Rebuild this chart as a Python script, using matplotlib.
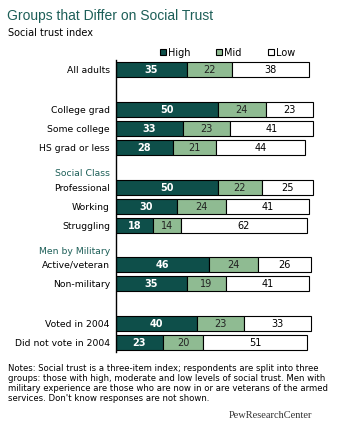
import matplotlib.pyplot as plt

groups = ['All adults', 'College grad', 'Some college', 'HS grad or less',
          'Professional', 'Working', 'Struggling',
          'Active/veteran', 'Non-military',
          'Voted in 2004', 'Did not vote in 2004']
high = [35, 50, 33, 28, 50, 30, 18, 46, 35, 40, 23]
mid = [22, 24, 23, 21, 22, 24, 14, 24, 19, 23, 20]
low = [38, 23, 41, 44, 25, 41, 62, 26, 41, 33, 51]
section_labels = ['Social Class', 'Men by Military']

# layout: row centres in pixels from top of figure
ypos = [70, 110, 129, 148, 188, 207, 226, 265, 284, 324, 343]
section_y = [173, 251]

dark = '#0e4f4a'
green = '#8fbb92'
teal_txt = '#1d5f58'

W, H = 337, 431
fig = plt.figure(figsize=(W / 100, H / 100), dpi=100)
ax = fig.add_axes([116 / W, 1 - 353 / H, 210 / W, (353 - 61) / H])
ax.set_xlim(0, 103.4)
ax.set_ylim(353, 61)

bh = 15
ax.barh(ypos, high, height=bh, color=dark, edgecolor='black', lw=0.8)
ax.barh(ypos, mid, left=high, height=bh, color=green, edgecolor='black', lw=0.8)
left2 = [h + m for h, m in zip(high, mid)]
ax.barh(ypos, low, left=left2, height=bh, color='white', edgecolor='black', lw=0.8)

for y, h, m, l in zip(ypos, high, mid, low):
    ax.text(h / 2, y, str(h), ha='center', va='center', color='white',
            fontsize=7, fontweight='bold')
    ax.text(h + m / 2, y, str(m), ha='center', va='center', color='#222222', fontsize=7)
    ax.text(h + m + l / 2, y, str(l), ha='center', va='center', color='black', fontsize=7)

for y, g in zip(ypos, groups):
    ax.text(-3, y, g, ha='right', va='center', fontsize=6.7, color='black')
for y, s in zip(section_y, section_labels):
    ax.text(-3, y, s, ha='right', va='center', fontsize=6.7, color=teal_txt)

for s in ['top', 'right', 'bottom']:
    ax.spines[s].set_visible(False)
ax.spines['left'].set_linewidth(1)
ax.set_xticks([])
ax.set_yticks([])

# title
fig.text(7 / W, 1 - 16 / H, 'Groups that Differ on Social Trust', fontsize=10,
         family='Liberation Sans', color=teal_txt, va='center', ha='left')
fig.text(8 / W, 1 - 33 / H, 'Social trust index', fontsize=7, va='center', ha='left')

# legend
for x, lab, c in [(160, 'High', dark), (216, 'Mid', green), (268, 'Low', 'white')]:
    fig.patches.append(plt.Rectangle((x / W, 1 - 56 / H), 6 / W, 6 / H, transform=fig.transFigure,
                                     facecolor=c, edgecolor='black', lw=0.8))
    fig.text((x + 8) / W, 1 - 53 / H, lab, fontsize=7, va='center', ha='left')

notes = ("Notes: Social trust is a three-item index; respondents are split into three\n"
         "groups: those with high, moderate and low levels of social trust. Men with\n"
         "military experience are those who are now in or are veterans of the armed\n"
         "services. Don't know responses are not shown.")
fig.text(8 / W, 1 - 364 / H, notes, fontsize=6.1, va='top', ha='left', linespacing=1.15)
fig.text(312 / W, 1 - 416 / H, 'PewResearchCenter', fontsize=7.5, family='Liberation Serif',
         va='center', ha='right', color='#333333')

fig.savefig('out.png', dpi=100, facecolor='white')
